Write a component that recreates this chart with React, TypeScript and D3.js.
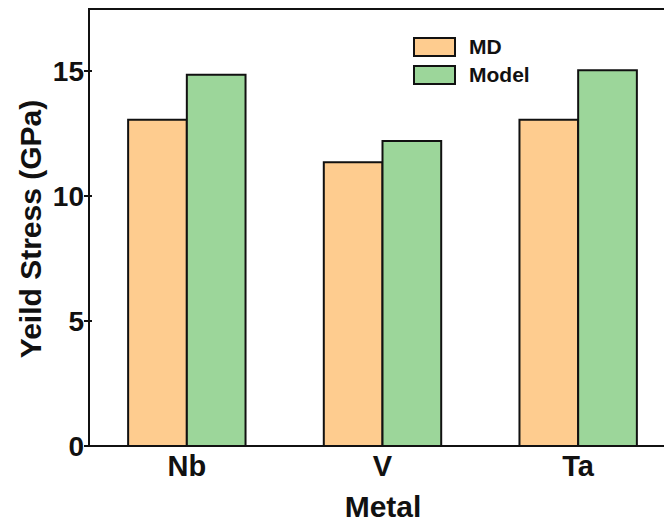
import React from "react";
import * as d3 from "d3";

const categories = ["Nb", "V", "Ta"];
const seriesNames = ["MD", "Model"];
const mdValues = [13.05, 11.35, 13.05];
const modelValues = [14.85, 12.2, 15.03];
const yTicks = [0, 5, 10, 15];
const colors = ["#FECC8F", "#9CD69A"];

const W = 664;
const H = 523;
const left = 89;
const right = 676;
const top = 9;
const bottom = 446;

export default function App() {
  const x = d3.scaleBand<string>().domain(categories).range([left, right]).paddingInner(0.4).paddingOuter(0.2);
  const x1 = d3.scaleBand<string>().domain(seriesNames).range([0, x.bandwidth()]);
  const y = d3.scaleLinear().domain([0, 17.48]).range([bottom, top]);
  const series = [mdValues, modelValues];
  const font = "'Liberation Sans', Arial, sans-serif";

  return (
    <svg width={W} height={H} style={{ position: "absolute", left: 0, top: 0, background: "#fff" }}>
      <rect x={0} y={0} width={W} height={H} fill="#fff" />
      {categories.map((c, i) =>
        series.map((vals, s) => (
          <rect
            key={c + s}
            x={(x(c) as number) + (x1(seriesNames[s]) as number)}
            y={y(vals[i])}
            width={x1.bandwidth()}
            height={bottom - y(vals[i])}
            fill={colors[s]}
            stroke="#111"
            strokeWidth={2}
          />
        ))
      )}
      {/* axes */}
      <line x1={left} x2={left} y1={top} y2={bottom} stroke="#111" strokeWidth={2} />
      <line x1={left - 1} x2={W} y1={bottom} y2={bottom} stroke="#111" strokeWidth={2} />
      <line x1={left - 1} x2={W} y1={top} y2={top} stroke="#111" strokeWidth={2} />
      {yTicks.map((t) => (
        <g key={t}>
          <line x1={left - 5} x2={left + 3} y1={y(t)} y2={y(t)} stroke="#111" strokeWidth={2} />
          <text x={left - 5} y={y(t)} dy="0.36em" textAnchor="end" fontFamily={font} fontWeight="bold" fontSize={28} fill="#111">
            {t}
          </text>
        </g>
      ))}
      {categories.map((c) => (
        <text key={c} x={(x(c) as number) + x.bandwidth() / 2} y={476} textAnchor="middle" fontFamily={font} fontWeight="bold" fontSize={29} fill="#111">
          {c}
        </text>
      ))}
      <text x={383} y={517} textAnchor="middle" fontFamily={font} fontWeight="bold" fontSize={30} fill="#111">
        Metal
      </text>
      <text transform={`translate(41,229) rotate(-90)`} textAnchor="middle" fontFamily={font} fontWeight="bold" fontSize={30} fill="#111">
        Yeild Stress (GPa)
      </text>
      {/* legend */}
      {seriesNames.map((n, i) => (
        <g key={n}>
          <rect x={414} y={38 + i * 28} width={41} height={18} fill={colors[i]} stroke="#111" strokeWidth={2} />
          <text x={469} y={46 + i * 28} dy="0.36em" fontFamily={font} fontWeight="bold" fontSize={21} fill="#111">
            {n}
          </text>
        </g>
      ))}
    </svg>
  );
}
